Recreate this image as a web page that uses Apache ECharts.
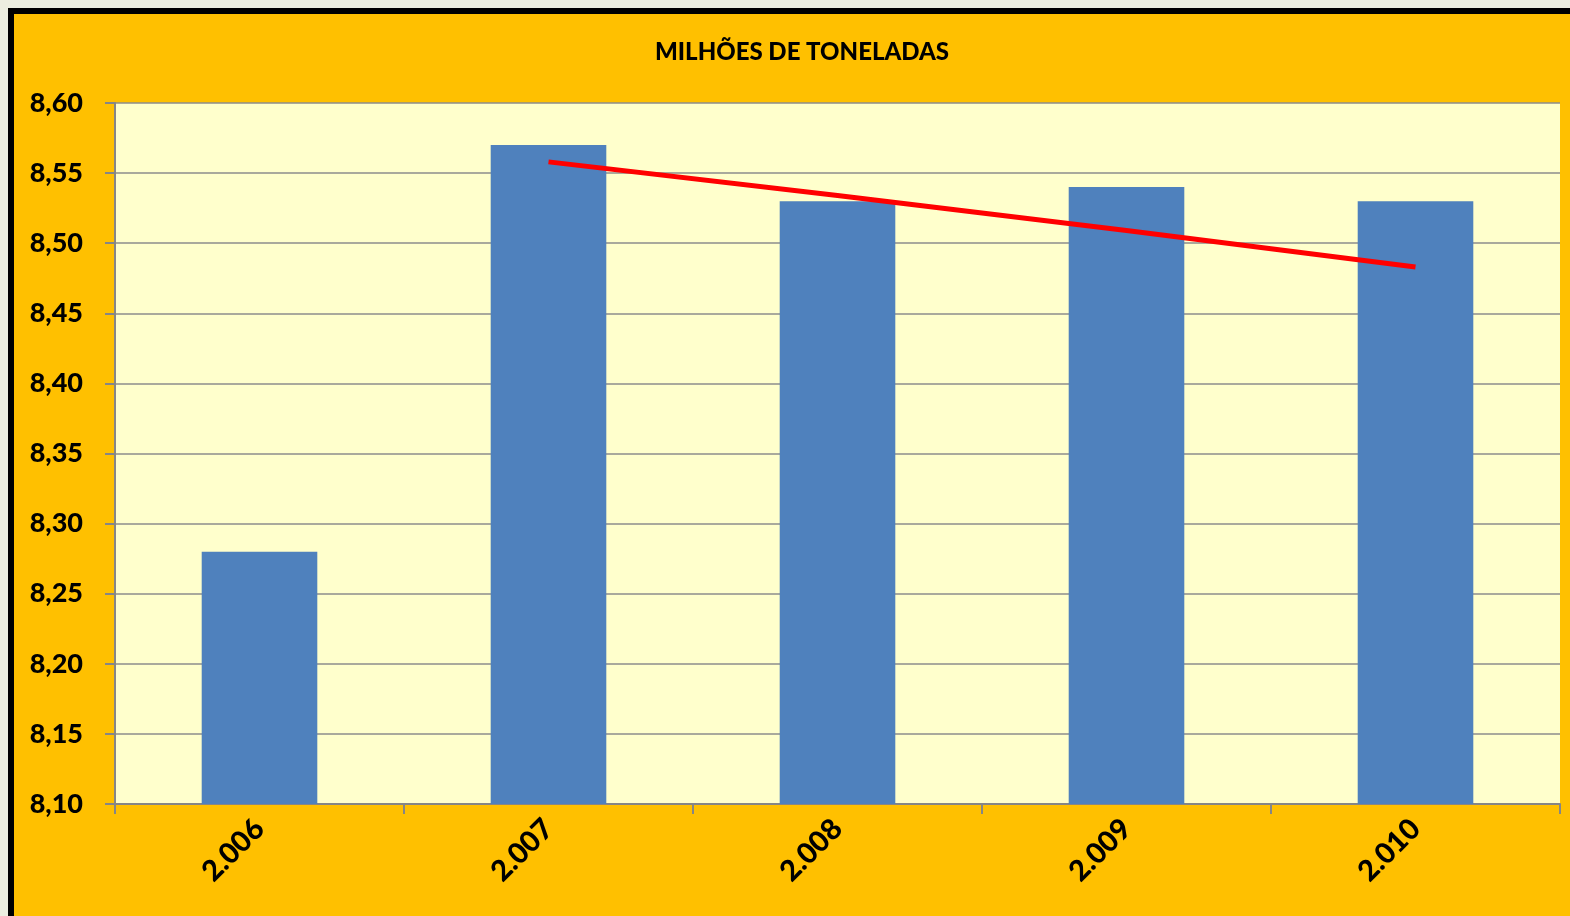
<!DOCTYPE html>
<html>
<head>
<meta charset="utf-8">
<script src="https://cdn.jsdelivr.net/npm/echarts@6/dist/echarts.min.js"></script>
<style>
  html, body { margin: 0; padding: 0; background: #ECEEE0; overflow: hidden; }
  .frame {
    position: absolute; left: 8px; top: 8px; width: 1562px; height: 908px;
    border-left: 6px solid #000; border-top: 6px solid #000;
    background: #FFC000;
  }
  #chart { width: 1556px; height: 902px; }
</style>
</head>
<body>
<div class="frame"><div id="chart"></div></div>
<script>
  // dados
  var anos = ['2.006', '2.007', '2.008', '2.009', '2.010'];
  var toneladas = [8.28, 8.57, 8.53, 8.54, 8.53];
  // linha de tendência
  var tendencia = [null, 8.558, 8.534, 8.509, 8.483];

  var chart = echarts.init(document.getElementById('chart'));
  chart.setOption({
    animation: false,
    title: {
      text: 'MILHÕES DE TONELADAS',
      left: 636,
      top: 21,
      textStyle: { fontFamily: 'Lato', fontWeight: 900, fontSize: 24, color: '#000' }
    },
    grid: {
      left: 101, right: 10, top: 89, bottom: 112,
      show: true, backgroundColor: '#FFFFCC', borderWidth: 0
    },
    xAxis: {
      type: 'category',
      data: anos,
      axisLine: { lineStyle: { color: '#868686', width: 2 } },
      axisTick: { show: true, length: 10, lineStyle: { color: '#868686', width: 2 } },
      axisLabel: {
        rotate: 45, margin: 20,
        fontFamily: 'Lato', fontWeight: 900, fontSize: 29, color: '#000'
      }
    },
    yAxis: {
      type: 'value',
      min: 8.1, max: 8.6, interval: 0.05,
      axisLine: { show: true, lineStyle: { color: '#868686', width: 2 } },
      axisTick: { show: true, length: 10, lineStyle: { color: '#868686', width: 2 } },
      splitLine: { lineStyle: { color: '#8c8c8c', width: 1.5 } },
      axisLabel: {
        margin: 32,
        fontFamily: 'Lato', fontWeight: 900, fontSize: 27, color: '#000',
        formatter: function (v) { return v.toFixed(2).replace('.', ','); }
      }
    },
    series: [
      {
        type: 'bar',
        data: toneladas,
        barWidth: '40%',
        itemStyle: { color: '#4F81BD' }
      },
      {
        type: 'line',
        data: tendencia,
        symbol: 'none',
        lineStyle: { color: '#FF0000', width: 5 },
        z: 5
      }
    ]
  });
</script>
</body>
</html>
